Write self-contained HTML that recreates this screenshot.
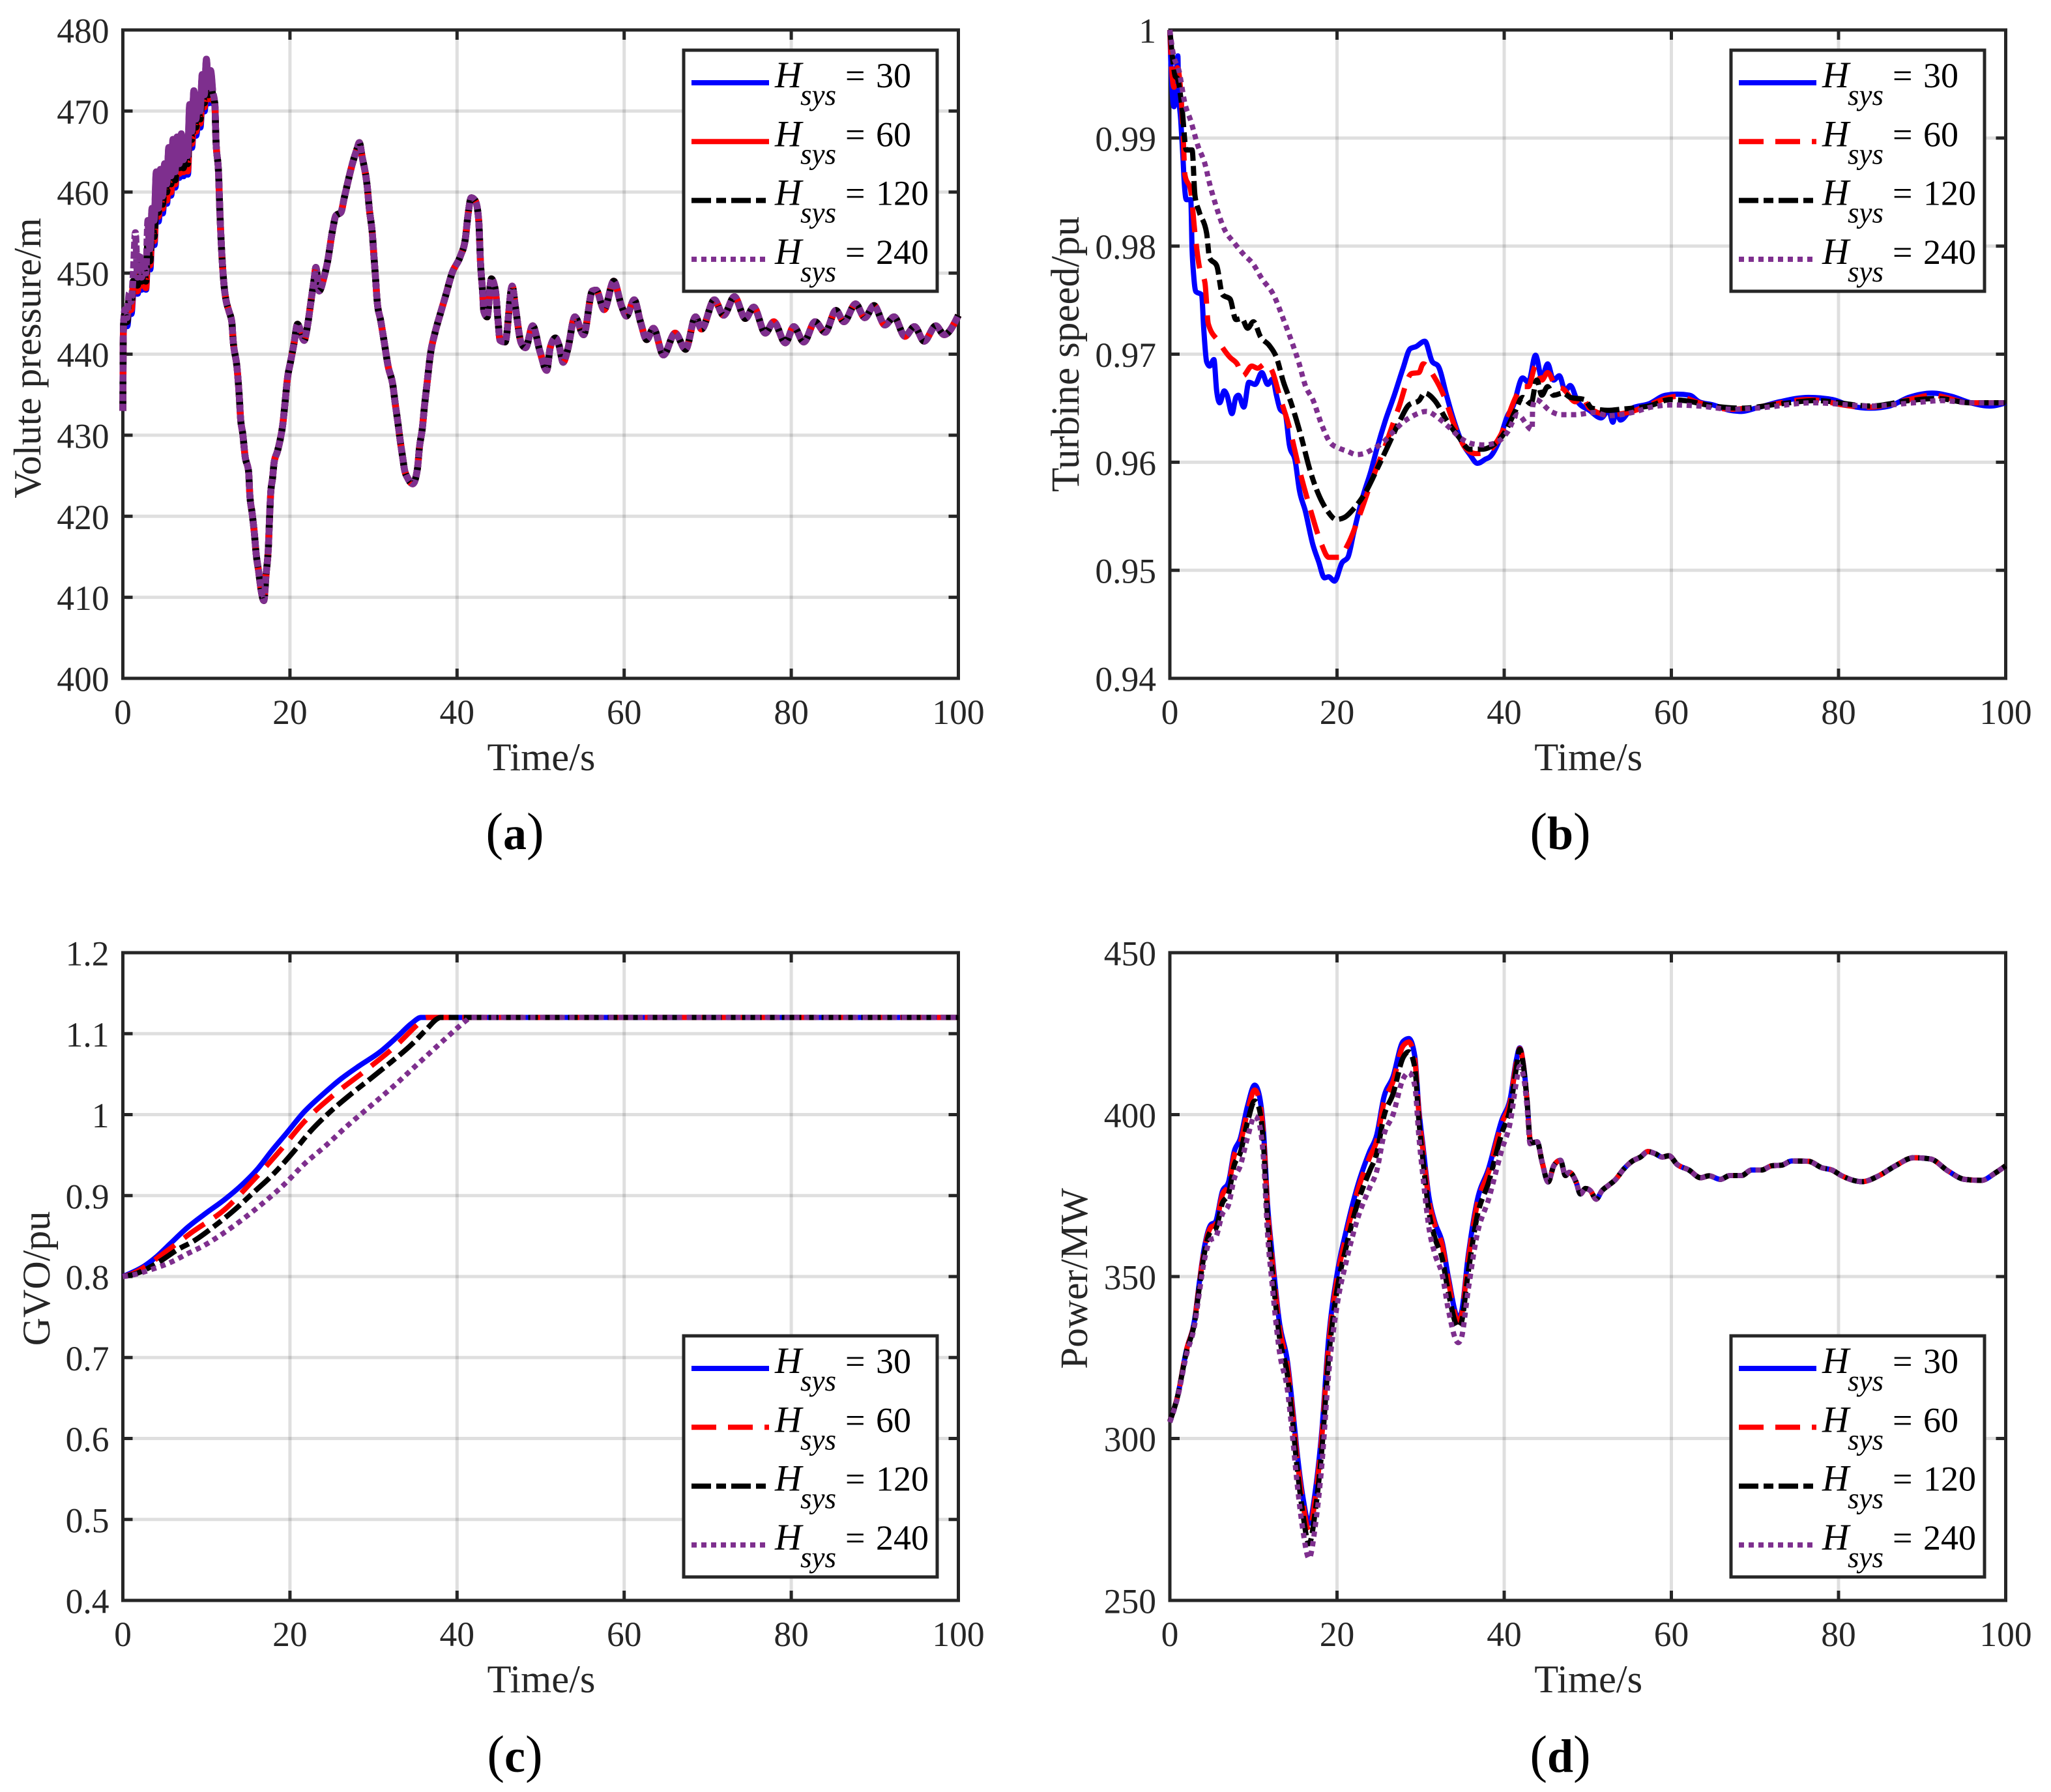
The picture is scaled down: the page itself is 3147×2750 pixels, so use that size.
<!DOCTYPE html>
<html lang="en">
<head>
<meta charset="utf-8">
<title>Hydro turbine response for different Hsys</title>
<style>
html,body{margin:0;padding:0;background:#fff;}
svg{display:block;font-family:"Liberation Serif",serif;}
</style>
</head>
<body>
<svg id="figure" xmlns="http://www.w3.org/2000/svg" width="3147" height="2750" viewBox="0 0 3147 2750">
<rect x="0" y="0" width="3147" height="2750" fill="#ffffff"/>
</svg>
<script>
/* ---------- tick labels ---------- */
var timeTicks = [0, 20, 40, 60, 80, 100];
var pressureTicks = [400, 410, 420, 430, 440, 450, 460, 470, 480];
var speedTicks = [0.94, 0.95, 0.96, 0.97, 0.98, 0.99, 1];
var gvoTicks = [0.4, 0.5, 0.6, 0.7, 0.8, 0.9, 1, 1.1, 1.2];
var powerTicks = [250, 300, 350, 400, 450];
var hsysValues = [30, 60, 120, 240];

/* ---------- (a) volute pressure ---------- */
var pressureEarlyTime = [0,0.04,0.1,0.25,0.5,0.75,1,1.25,1.5,1.75,2,2.25,2.5,2.75,3,3.25,3.5,3.75,4,4.25,4.5,4.75,5,5.25,5.5,5.75,6,6.25,6.5,6.75,7,7.25,7.5,7.75,8,8.25,8.5,8.75,9,9.25,9.5,9.75,10,10.25,10.5,10.75];
var pressureEarly30 = [433,441,444,445,443.5,446,445,448,447.6,447.5,450,448,449.5,448,453,450.5,455.5,453.5,459,456.4,460,457.4,461,458.6,462.5,459.6,463.5,460.6,463.5,461.8,464,462,464,462.2,468,465.5,469.5,467,469,468,471.5,470,473.5,471,473,471];
var pressureEarly60 = [433,441,444,445,444,446.5,445.5,448.5,448,447.8,450.5,448.5,450,448.2,453.5,451,456,454,459.5,457,460.5,458,461.5,459,463,460,464,461,464,462.3,464.5,462.5,464.5,462.6,468.5,466,470,467.5,469.5,468.5,472,470.5,474,471.5,473.5,471.5];
var pressureEarly120 = [433,441,444,445,444,447,446,449,449,448.5,451,449,450.5,449,454,451.5,456.5,454.5,460,457.5,461,458.5,462,460,463.5,461,464.5,461.5,464.5,463,465,463,465,463.5,469,466.5,470.5,468,470,469,472.5,471,474.5,472,474,472];
var pressureEarly240 = [433,441,444,445.5,444.5,447.5,446.5,450,455,449.5,452.5,449.5,451.5,450,456.5,453,458,456.5,462.5,458,462.8,459.5,463.5,461,465.5,462,466.5,462.5,466.8,463.5,467.2,464,466.5,464.5,470.8,467.5,472.5,469,472,470,474.5,472,476.4,473,475,472.5];
var pressureLateTime = [11,11.14,11.46,11.6,11.86,12.14,12.34,12.7,13.05,13.2,13.66,13.94,14.08,14.36,14.63,15.05,15.2,15.47,15.75,15.95,16.25,16.53,16.87,17.15,17.43,17.56,17.7,17.92,18.1,18.5,18.8,19.15,19.4,19.7,20.1,20.5,20.9,21.7,22.1,22.5,22.9,23.1,23.5,24.1,24.5,25.1,25.5,26.1,26.5,26.9,27.5,28.05,28.3,28.65,29.25,29.5,29.85,30.05,30.25,30.45,30.85,31.25,31.77,32.3,32.6,32.9,33.2,33.5,33.7,34.1,34.7,35.25,35.5,35.85,36.1,36.4,36.8,37.4,38,38.6,39.4,40.4,41,41.3,41.7,42.2,42.6,42.8,43.05,43.2,43.6,44.1,44.6,44.9,45.15,45.75,46.6,47,47.67,48.2,49.05,49.93,50.73,51.15,51.78,52.2,52.7,53.25,54.1,55.15,56.2,56.65,57.6,58.75,59.7,60.27,61.2,61.95,62.7,63.5,64.7,66.1,67.35,68.55,69.25,70.8,71.9,73.2,74.5,75.5,76.9,77.9,79.3,80.3,81.5,82.85,84.05,85.35,86.3,87.7,88.8,89.9,91.2,92.3,93.6,94.75,95.9,97.3,98.3,100];
var pressureLate = [471,466.5,462.2,457.9,452.1,448.2,446.7,445.3,443.9,441.7,438.4,434.7,432.2,430.1,427.4,425.5,422.6,420.4,417.8,415.4,413.2,411,409.6,412.9,416.4,419.9,422.9,424.7,426.6,428,429.3,431.4,433.9,437,439.2,441.4,443.7,441.7,443.5,446.4,449.3,450.7,447.8,449.6,451.4,455.3,457.1,457.5,459.3,461.1,463.6,465.4,466.1,464.3,460.7,457.9,455,452.1,449.3,446.4,444.2,441.7,438.4,436.3,433.9,431.7,429.3,427.2,425.8,424.7,424,425.8,428.5,430.9,433.6,436.3,439.9,442.8,445,447.1,450,452.1,454.3,457.1,459.3,458.9,456.4,451.4,447.8,445.3,444.6,449.3,447.8,444.2,441.7,441.5,448.4,445.7,441.4,440.8,443.5,440.3,438,440.8,442,441.1,439,440.6,444.6,442.4,447.8,447.9,445.5,449,445.9,444.7,446.7,444,441.8,443.2,439.9,442.6,440.6,444.6,443.1,446.7,444.8,447.1,444.4,445.8,442.6,444,441.4,443.4,441.5,444,442.7,445.4,444,446.2,444.5,446,443.6,444.6,442.2,443.4,441.6,443.5,442.4,444.8];

/* ---------- (b) turbine speed ---------- */
var speedTime30 = [0,0.13,0.5,0.96,1.04,1.3,1.56,1.73,1.97,2.5,2.66,2.84,3.1,3.8,4.05,4.4,4.75,5.27,5.6,5.97,6.5,6.84,7.43,7.9,8.2,8.85,9.45,10.2,11,11.7,12.3,12.75,13.2,13.8,14.3,15,15.5,16.2,17.1,17.8,18.5,19,19.7,20.6,21.3,22,23,24.1,24.75,25.8,26.85,27.9,28.75,29.45,30.5,31.4,32.1,33.1,33.8,34.85,35.9,36.8,37.8,38.3,39.4,40.4,41.07,42.2,42.9,43.75,44.5,45.2,45.9,46.6,47.3,47.9,48.8,50.2,51.6,52.5,53,53.4,53.9,55.3,57.3,59.3,60.7,62.2,63.3,65,67,68.4,70.1,73,76.4,79.3,81.5,83.8,86.1,88.4,91.2,93.5,95.8,98.1,100];
var speed30 = [1,0.9967,0.9929,0.9976,0.9943,0.9917,0.9883,0.9858,0.9843,0.9843,0.9797,0.9774,0.9758,0.9755,0.9724,0.9693,0.9689,0.9695,0.9666,0.9655,0.9666,0.9662,0.9645,0.966,0.9662,0.9651,0.9674,0.9672,0.9683,0.9672,0.9677,0.9662,0.9649,0.9645,0.9616,0.9601,0.9574,0.9555,0.9524,0.9508,0.9493,0.9494,0.949,0.9507,0.9512,0.9535,0.9566,0.9593,0.9612,0.9639,0.9662,0.9687,0.9705,0.9707,0.9712,0.9693,0.9689,0.9662,0.9643,0.962,0.9607,0.9599,0.9603,0.9605,0.962,0.9643,0.9652,0.9678,0.9674,0.9699,0.9678,0.9691,0.9676,0.968,0.9666,0.9671,0.9656,0.9648,0.9641,0.9648,0.9637,0.9648,0.9639,0.965,0.9654,0.9662,0.9663,0.9662,0.9656,0.9653,0.9648,0.9647,0.965,0.9656,0.966,0.9658,0.9652,0.965,0.9652,0.966,0.9664,0.9661,0.9655,0.9652,0.9655];
var speedTime60 = [0,0.26,0.5,0.9,1.3,1.6,1.8,2.5,3,3.5,4.2,4.6,5.8,7.2,8.05,8.75,9.8,10.5,11.4,12.2,13.1,14.3,15.5,16.75,18.15,19,20.25,21.3,22.7,24.1,25.8,27.4,28.9,29.8,30.3,31.7,32.75,34.15,35.5,36.6,37.8,39.5,41.5,42.2,42.9,43.75,44.5,45.2,46.2,47.05,48.5,49.3,50.2,52.5,55.3,57.3,59.3,60.7,63.3,67,70.1,76.4,81.5,83.8,88.4,91.2,95.8,100];
var speed60 = [1,0.9959,0.9947,0.9965,0.9943,0.9901,0.9866,0.9851,0.9812,0.9782,0.9766,0.9728,0.9712,0.9697,0.9691,0.968,0.9689,0.9687,0.9691,0.9685,0.9662,0.9632,0.9593,0.9558,0.9524,0.9512,0.9512,0.9524,0.9551,0.9582,0.9616,0.9651,0.9682,0.9683,0.9691,0.9678,0.9662,0.9632,0.9612,0.9608,0.9609,0.9624,0.9662,0.967,0.967,0.9689,0.9676,0.9683,0.967,0.9668,0.9656,0.9661,0.965,0.9644,0.9647,0.9653,0.9659,0.9661,0.9655,0.9649,0.9651,0.9658,0.9652,0.9651,0.9658,0.9662,0.9655,0.9655];
var speedTime120 = [0,0.34,0.65,0.92,1.45,1.97,2.66,3,3.5,4.4,4.75,5.6,6.3,7.2,7.9,8.6,9.3,10,10.85,11.9,12.75,13.6,14.5,15.7,16.75,17.8,18.85,19.9,20.9,22,23.4,24.75,26.15,27.55,28.6,29.8,30.5,31.7,33.1,34.5,35.9,37.3,38.7,40.1,41.3,42.2,43.2,43.9,44.5,45.2,45.9,47.05,47.9,49.6,50.5,52.5,53.9,55.3,57.3,59.9,61.6,65,68.4,73,77.3,83.8,88.4,91.8,95.8,100];
var speed120 = [1,0.9973,0.9957,0.9955,0.9928,0.9889,0.9889,0.9847,0.9832,0.9812,0.9789,0.9782,0.9755,0.9751,0.9732,0.9733,0.9724,0.973,0.9716,0.9708,0.9697,0.9674,0.9655,0.9624,0.9593,0.957,0.9555,0.9547,0.9549,0.9557,0.9572,0.9593,0.9616,0.9639,0.9653,0.9657,0.9664,0.9657,0.9639,0.9624,0.9612,0.9612,0.9616,0.9628,0.9647,0.966,0.9654,0.9676,0.9662,0.967,0.9662,0.9664,0.966,0.9658,0.965,0.9648,0.9649,0.965,0.9652,0.9658,0.9657,0.9652,0.965,0.9654,0.9657,0.9652,0.9657,0.9659,0.9655,0.9655];
var speedTime240 = [0,0.4,1.1,1.8,2.5,3.35,4.2,4.75,5.45,6.5,7.7,8.75,10,11,12.4,13.6,14.7,15.4,16.25,17.1,18.15,19.2,20.25,21.3,22.3,23.2,24.25,25.45,26.7,27.9,29.1,30.7,32.1,33.45,34.85,36.25,37.6,39,40.4,41.6,43.35,43.4,43.75,45.6,46.75,48.5,50.8,52.5,55.3,57.6,59.9,63.3,67.3,70.1,77,83.8,89,92.4,95.8,100];
var speed240 = [1,0.9978,0.9962,0.9932,0.9916,0.9893,0.9876,0.9858,0.9839,0.9816,0.9803,0.9793,0.9783,0.977,0.9755,0.9732,0.9709,0.9693,0.967,0.9658,0.9635,0.9618,0.9613,0.961,0.9607,0.9608,0.9612,0.9618,0.9628,0.9637,0.9643,0.9647,0.9641,0.9632,0.9622,0.9617,0.9616,0.9618,0.9628,0.9644,0.963,0.9651,0.9658,0.9647,0.9644,0.9644,0.9646,0.9643,0.9646,0.9651,0.9653,0.9652,0.9649,0.965,0.9655,0.9652,0.9655,0.9657,0.9655,0.9655];

/* ---------- (c) guide vane opening ---------- */
var gvoTime30 = [0,1.1,2.5,3.9,5.64,7.7,9.8,12.25,14.35,16.1,17.85,19.6,21.7,23.75,26.2,28.3,30.75,32.8,34.55,35.7,100];
var gvo30 = [0.8,0.805,0.8126,0.8234,0.8403,0.8603,0.8772,0.8957,0.9142,0.9326,0.9557,0.9772,1.0034,1.0234,1.0449,1.0603,1.0772,1.0957,1.1126,1.12,1.12];
var gvoTime60 = [0,1.1,2.5,4.6,8.4,12.25,15.6,18.7,21.7,25.3,29,32.65,35.6,36.3,100];
var gvo60 = [0.8,0.8034,0.811,0.8265,0.8557,0.8834,0.9188,0.9542,0.9911,1.0249,1.0542,1.0849,1.1142,1.12,1.12];
var gvoTime120 = [0,1.5,4.2,6.7,8.4,10.9,13.3,15.75,17.85,20.3,22.4,24.8,27.25,29.7,32.1,34.55,36.3,37.7,38,100];
var gvo120 = [0.8,0.8034,0.8172,0.8342,0.8434,0.8618,0.8818,0.9049,0.9249,0.9526,0.9788,1.0034,1.0249,1.0449,1.0649,1.0865,1.1049,1.1188,1.12,1.12];
var gvoTime240 = [0,1.1,3.2,5.64,7.7,9.8,11.9,14,16.45,19.2,21.7,24.3,26.9,29.7,32.3,34.9,37.5,39.3,41.2,41.55,100];
var gvo240 = [0.8,0.8018,0.808,0.8172,0.828,0.8388,0.8526,0.868,0.888,0.9126,0.9388,0.9618,0.9865,1.0111,1.0342,1.0588,1.0834,1.1003,1.1172,1.12,1.12];

/* ---------- (d) power ---------- */
var powerEarlyTime = [0,0.92,1.96,3,3.5,4.05,4.9,5.44,6.3,7,7.7,8.4,9.3,10.15,10.65,11.2,11.7,12.2,13.1,14.1,14.65,15.2,15.9,16.65,17.45,18.15,19,20.05,21.1,22.5,23.9,24.75,25.6,26.7,27.9,28.6,29.3,29.8,30.3,31,31.7,32.6,33.3,34.5,34.85,35.7,36.75,38.15,39.7,40.75,41.45,41.85,42.3,42.75,43.1];
var powerEarly30 = [305.3,313,327,337.3,347.6,357.8,366,366.8,376.4,379,388.6,392.4,402.7,409.1,406.5,395,371.9,357.8,336,323.2,310.4,296.3,282.2,273.8,284.7,301.4,330.9,351.4,364.2,378.3,388.6,393.7,405.3,411.7,422.6,423.5,418.1,401.4,389.9,374.5,366.8,360.4,350.1,337.3,338.6,356.5,373.2,383.5,398.2,405.3,416.8,420.6,415.5,404,392.4];
var powerEarly60 = [305.3,313,327,337,347.2,357.2,365.2,366,375.4,378,387.4,391,401,407.6,405,393.6,370.4,356.4,334.6,321.8,309,294.6,280.4,271.5,282.8,299.6,329,350,362.6,376.8,386.8,392,403.6,410.2,421.2,422.4,417,400.2,388.6,373.4,366,359.4,349,336.2,337.6,355.2,372,382.4,397.2,404.4,416,420.4,415.3,403.8,392.2];
var powerEarly120 = [305.3,313,326.5,336.5,346.2,356,364,364.6,372.8,375.4,384.4,388,397.8,404.2,402.2,391,367.6,353.4,331.6,319,306.2,291.6,277,267.5,278.6,295.6,325,346.6,359.2,373,382.6,388,399.4,406.4,417.6,419.4,414.6,398,385.6,370,362,355.4,345.4,334.4,335.6,351.4,368.4,379.2,394.2,402.4,414.4,420.2,415,403.6,392];
var powerEarly240 = [305,312.6,325.6,335.6,344.6,354,361.4,362,369.4,372,380.2,384,393,399.5,397.6,386.6,362.8,348.6,327,314.4,301.4,286.8,272,263,274,290.8,320,341.8,354.6,368.2,377.4,382.6,393.6,400,411,413,409,393,380.4,365,357,350.4,340,329.6,330.8,346,362.8,374,389,398,410,414.9,412,402,391];
var powerLateTime = [43.34,43.95,44.54,45.26,45.93,46.73,47.33,47.8,48.6,49.12,49.72,50.32,51,51.7,52.5,53.3,54.3,55.3,56.3,57.2,58.1,58.9,59.7,60.7,62.1,63.5,64.5,65.85,67,68.4,69.6,70.8,72,73.2,74.4,76.4,78,79.2,80.4,82.8,84.8,86.8,89,91,93.1,95.1,97.1,98.7,100];
var powerLate = [391.3,391.6,385.3,379.2,384.2,385.9,381.2,382.2,379.2,375.5,377.2,376.5,373.9,376.5,378.2,379.9,383.2,385.6,386.9,388.6,387.9,386.9,387.3,384.6,382.9,380.5,381.1,380,381.2,381.2,382.9,382.9,384.2,384.4,385.7,385.6,383.6,382.9,381.1,379.3,381.1,384.2,386.7,386.3,382.6,380,379.7,381.9,384.2];

/* ---------- drawing ---------- */
var SVGNS = 'http://www.w3.org/2000/svg';
var root = document.getElementById('figure');
var INK = '#262626';
var LINE_W = 8;

function make(tag, parent, attrs, text) {
  var el = document.createElementNS(SVGNS, tag);
  for (var k in attrs) { el.setAttribute(k, attrs[k]); }
  if (text !== undefined) { el.textContent = text; }
  parent.appendChild(el);
  return el;
}
function linearScale(d0, d1, r0, r1) {
  return function (v) { return r0 + (v - d0) / (d1 - d0) * (r1 - r0); };
}
/* monotone cubic through the data points: no overshoot at plateaus */
function smoothPath(ts, vs, sx, sy) {
  var n = ts.length, xs = [], ys = [], m = [], i;
  for (i = 0; i < n; i++) { xs.push(sx(ts[i])); ys.push(sy(vs[i])); }
  for (i = 1; i < n - 1; i++) {
    var h0 = xs[i] - xs[i - 1], h1 = xs[i + 1] - xs[i];
    var s0 = (ys[i] - ys[i - 1]) / h0, s1 = (ys[i + 1] - ys[i]) / h1;
    var q = (s0 * h1 + s1 * h0) / (h0 + h1);
    m[i] = (Math.sign(s0) + Math.sign(s1)) * Math.min(Math.abs(s0), Math.abs(s1), 0.5 * Math.abs(q));
  }
  m[0] = (3 * (ys[1] - ys[0]) / (xs[1] - xs[0]) - (m[1] || 0)) / 2;
  m[n - 1] = (3 * (ys[n - 1] - ys[n - 2]) / (xs[n - 1] - xs[n - 2]) - (m[n - 2] || 0)) / 2;
  var d = 'M' + xs[0].toFixed(2) + ' ' + ys[0].toFixed(2);
  for (i = 1; i < n; i++) {
    var dx = (xs[i] - xs[i - 1]) / 3;
    d += 'C' + (xs[i - 1] + dx).toFixed(2) + ' ' + (ys[i - 1] + dx * m[i - 1]).toFixed(2) + ' ' +
         (xs[i] - dx).toFixed(2) + ' ' + (ys[i] - dx * m[i]).toFixed(2) + ' ' +
         xs[i].toFixed(2) + ' ' + ys[i].toFixed(2);
  }
  return d;
}

function drawPanel(p) {
  var w = p.right - p.left, h = p.bottom - p.top;
  var sx = linearScale(0, 100, p.left, p.right);
  var sy = linearScale(p.yTicks[0], p.yTicks[p.yTicks.length - 1], p.bottom, p.top);

  var g = make('g', root, {});
  
  

  var plotBg = make('rect', g, {x: p.left, y: p.top, width: w, height: h, fill: '#fff'});
  
  

  /* grid */
  timeTicks.forEach(function (t) {
    if (t === 0 || t === 100) { return; }
    var gl = make('line', g, {x1: sx(t), x2: sx(t), y1: p.top, y2: p.bottom, stroke: INK, 'stroke-opacity': 0.15, 'stroke-width': 5});
    
    
  });
  p.yTicks.forEach(function (v, i) {
    if (i === 0 || i === p.yTicks.length - 1) { return; }
    var gl = make('line', g, {x1: p.left, x2: p.right, y1: sy(v), y2: sy(v), stroke: INK, 'stroke-opacity': 0.15, 'stroke-width': 5});
    
    
  });

  /* ticks and tick labels */
  timeTicks.forEach(function (t) {
    [[p.bottom, p.bottom - 15], [p.top, p.top + 15]].forEach(function (ends) {
      if (t === 0 || t === 100) { return; }
      var tk = make('line', g, {x1: sx(t), x2: sx(t), y1: ends[0], y2: ends[1], stroke: INK, 'stroke-width': 5});
      
      
    });
    var lb = make('text', g, {x: sx(t), y: p.bottom + 70, 'text-anchor': 'middle', 'font-size': 53.5, fill: INK}, String(t));
    
    
  });
  p.yTicks.forEach(function (v, i) {
    if (i !== 0 && i !== p.yTicks.length - 1) {
      [[p.left, p.left + 15], [p.right, p.right - 15]].forEach(function (ends) {
        var tk = make('line', g, {x1: ends[0], x2: ends[1], y1: sy(v), y2: sy(v), stroke: INK, 'stroke-width': 5});
        
        
      });
    }
    var lb = make('text', g, {x: p.left - 21, y: sy(v) + 19.5, 'text-anchor': 'end', 'font-size': 53.5, fill: INK}, String(v));
    
    
  });

  /* axes box */
  var box = make('rect', g, {x: p.left, y: p.top, width: w, height: h, fill: 'none', stroke: INK, 'stroke-width': 5});
  
  

  /* axis titles */
  var xt = make('text', g, {x: (p.left + p.right) / 2 + 1, y: p.bottom + 141, 'text-anchor': 'middle', 'font-size': 60.5, fill: INK}, 'Time/s');
  
  
  var yc = (p.top + p.bottom) / 2 + p.yTitleDy;
  var yt = make('text', g, {x: p.yTitleX, y: yc, 'text-anchor': 'middle', 'font-size': p.yTitleSize, fill: INK, transform: 'rotate(-90 ' + p.yTitleX + ' ' + yc + ')'}, p.yTitle);
  
  

  /* series */
  var lineW = p.lineWidth || LINE_W;
  p.series.forEach(function (s) {
    var path = make('path', g, {d: smoothPath(s.t, s.v, sx, sy), fill: 'none', stroke: s.color, 'stroke-width': lineW, 'stroke-linejoin': 'round', 'stroke-dasharray': s.dash || 'none'});
    
    
    if (s.bandT) {
      var band = make('path', g, {d: smoothPath(s.bandT, s.bandV, sx, sy), fill: 'none', stroke: s.color, 'stroke-width': lineW, 'stroke-linejoin': 'round'});
      
      
    }
  });

  /* legend */
  var lg = make('g', g, {});
  
  
  var lx = p.legendDx, ly = p.legendDy;
  var lbox = make('rect', lg, {x: 1049 + lx, y: 77 + ly, width: 389, height: 370, fill: '#fff', stroke: INK, 'stroke-width': 5});
  
  
  p.series.forEach(function (s, i) {
    var y0 = ly + 90.3 * i;
    var key = make('line', lg, {x1: 1061 + lx, x2: 1180 + lx, y1: 127 + y0, y2: 127 + y0, stroke: s.color, 'stroke-width': LINE_W, 'stroke-dasharray': s.key || s.dash || 'none'});
    
    
    var hText = make('text', lg, {x: 1189 + lx, y: 134 + y0, 'font-size': 57, 'font-style': 'italic', fill: '#000'}, 'H');
    
    
    var sub = make('text', lg, {x: 1228 + lx, y: 161 + y0, 'font-size': 45, 'font-style': 'italic', fill: '#000'}, 'sys');
    
    
    var eq = make('text', lg, {x: 1297 + lx, y: 134 + y0, 'font-size': 54, fill: '#000'}, '=');
    
    
    var val = make('text', lg, {x: 1344 + lx, y: 134 + y0, 'font-size': 54, fill: '#000'}, String(s.h));
    
    
  });

  /* panel caption */
  var cap = make('text', g, {x: p.capX, y: p.capY, 'text-anchor': 'middle', 'font-size': 80, fill: '#000'});
  
  
  make('tspan', cap, {}, '(');
  make('tspan', cap, {'font-weight': 'bold', 'font-size': 72}, p.letter);
  make('tspan', cap, {}, ')');
}

var DASH_RED = '38 18', DASH_BLACK = '30 8 15 8', DOT = '8 7', DOT_DENSE = '11 4';
var BLUE = '#0000ff', RED = '#ff0000', BLACK = '#000000', PURPLE = '#7e2f8e';

drawPanel({
  id: 'volute-pressure', letter: 'a', yTicks: pressureTicks, yTitle: 'Volute pressure/m', yTitleX: 62, yTitleDy: 6, yTitleSize: 59.5, lineWidth: 10.5,
  left: 188.5, right: 1470.5, top: 46, bottom: 1041, legendDx: 0, legendDy: 0, capX: 790, capY: 1303,
  series: [
    {h: hsysValues[0], t: pressureEarlyTime.concat(pressureLateTime), v: pressureEarly30.concat(pressureLate), color: BLUE},
    {h: hsysValues[1], t: pressureEarlyTime.concat(pressureLateTime), v: pressureEarly60.concat(pressureLate), color: RED},
    {h: hsysValues[2], t: pressureEarlyTime.concat(pressureLateTime), v: pressureEarly120.concat(pressureLate), color: BLACK, dash: DASH_BLACK},
    {h: hsysValues[3], t: pressureEarlyTime.concat(pressureLateTime), v: pressureEarly240.concat(pressureLate), color: PURPLE, dash: DOT_DENSE, key: DOT,
     bandT: pressureEarlyTime.slice(14), bandV: pressureEarly240.slice(14)}
  ]
});
drawPanel({
  id: 'turbine-speed', letter: 'b', yTicks: speedTicks, yTitle: 'Turbine speed/pu', yTitleX: 1655, yTitleDy: 0, yTitleSize: 61,
  left: 1795, right: 3077.5, top: 46, bottom: 1041, legendDx: 1607, legendDy: 0, capX: 2394, capY: 1303,
  series: [
    {h: hsysValues[0], t: speedTime30, v: speed30, color: BLUE},
    {h: hsysValues[1], t: speedTime60, v: speed60, color: RED, dash: DASH_RED},
    {h: hsysValues[2], t: speedTime120, v: speed120, color: BLACK, dash: DASH_BLACK},
    {h: hsysValues[3], t: speedTime240, v: speed240, color: PURPLE, dash: DOT}
  ]
});
drawPanel({
  id: 'guide-vane-opening', letter: 'c', yTicks: gvoTicks, yTitle: 'GVO/pu', yTitleX: 76, yTitleDy: 3, yTitleSize: 60,
  left: 188.5, right: 1470.5, top: 1462, bottom: 2456, legendDx: 0, legendDy: 1973, capX: 790, capY: 2719,
  series: [
    {h: hsysValues[0], t: gvoTime30, v: gvo30, color: BLUE},
    {h: hsysValues[1], t: gvoTime60, v: gvo60, color: RED, dash: DASH_RED},
    {h: hsysValues[2], t: gvoTime120, v: gvo120, color: BLACK, dash: DASH_BLACK},
    {h: hsysValues[3], t: gvoTime240, v: gvo240, color: PURPLE, dash: DOT}
  ]
});
drawPanel({
  id: 'power', letter: 'd', yTicks: powerTicks, yTitle: 'Power/MW', yTitleX: 1668, yTitleDy: 3, yTitleSize: 59.5,
  left: 1795, right: 3077.5, top: 1462, bottom: 2456, legendDx: 1607, legendDy: 1973, capX: 2394, capY: 2719,
  series: [
    {h: hsysValues[0], t: powerEarlyTime.concat(powerLateTime), v: powerEarly30.concat(powerLate), color: BLUE},
    {h: hsysValues[1], t: powerEarlyTime.concat(powerLateTime), v: powerEarly60.concat(powerLate), color: RED, dash: DASH_RED},
    {h: hsysValues[2], t: powerEarlyTime.concat(powerLateTime), v: powerEarly120.concat(powerLate), color: BLACK, dash: DASH_BLACK},
    {h: hsysValues[3], t: powerEarlyTime.concat(powerLateTime), v: powerEarly240.concat(powerLate), color: PURPLE, dash: DOT}
  ]
});
</script>
</body>
</html>
